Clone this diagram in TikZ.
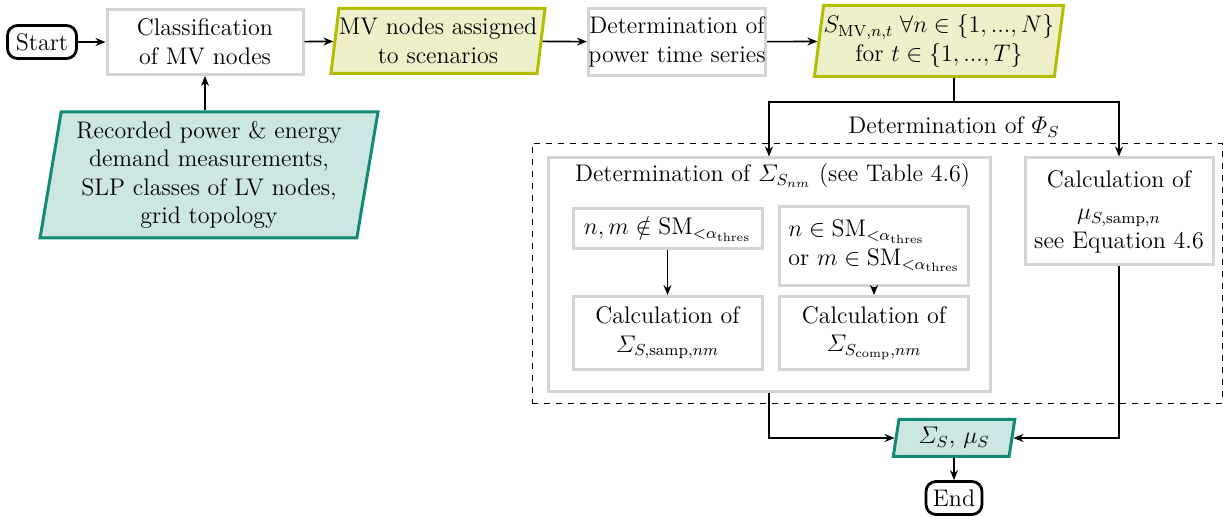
\documentclass[tikz,border=0pt]{standalone}
\usepackage{amsmath}
\usetikzlibrary{shapes.geometric,arrows.meta}

\definecolor{boxgray}{HTML}{D4D4D4}
\definecolor{oliveline}{HTML}{B4BE00}
\definecolor{olivefill}{HTML}{EEF0C9}
\definecolor{tealline}{HTML}{138A76}
\definecolor{tealfill}{HTML}{CCE6E1}

\tikzset{
  terminal/.style={draw, line width=1.4pt, rounded corners=5pt, inner sep=0pt},
  process/.style={draw=boxgray, line width=1.5pt, align=center, inner sep=0pt},
  data/.style={trapezium, trapezium left angle=80, trapezium right angle=100,
    trapezium stretches=true, line width=1.5pt, align=center, inner sep=0pt},
  oliveio/.style={data, draw=oliveline, fill=olivefill},
  tealio/.style={data, draw=tealline, fill=tealfill},
  conn/.style={-{Stealth[length=5pt,width=4pt]}, line width=0.8pt},
  link/.style={line width=0.8pt},
  group/.style={draw, dashed, line width=0.5pt, inner sep=0pt},
}

\begin{document}
\begin{tikzpicture}[x=0.5pt, y=-0.5pt, font=\fontsize{12}{14.25}\selectfont]
\useasboundingbox (0,0) rectangle (1226,517);

% main chain
\node[terminal, minimum width=34.5pt, minimum height=16.5pt] (start) at (42,42) {Start};
\node[process, minimum width=98pt, minimum height=32.5pt] (class) at (205,42)
  {Classification\\of MV nodes};
\node[oliveio, minimum width=102.5pt, minimum height=32.5pt] (mv) at (438,41)
  {MV nodes assigned\\to scenarios};
\node[process, minimum width=80pt, minimum height=33.5pt] (det) at (677,42)
  {Determination of\\power time series};
\node[oliveio, minimum width=119pt, minimum height=35.5pt] (smv) at (939,41)
  {$S_{\text{MV},n,t}\;\forall n\in\{1,...,N\}$\\for $t\in\{1,...,T\}$};

% input data
\node[tealio, minimum width=169pt, minimum height=63pt] (input) at (209,175)
  {Recorded power \& energy\\demand measurements,\\SLP classes of LV nodes,\\grid topology};

% covariance and mean determination
\node[group, minimum width=345pt, minimum height=130pt] (phi) at (877,273.5) {};
\node (philabel) at (954,127) {Determination of $\varPhi_S$};

\node[process, minimum width=221pt, minimum height=117pt] (sigbox) at (769,275) {};
\node[anchor=base west] (sigtitle) at (568,182) {Determination of $\varSigma_{S_{nm}}$ (see Table 4.6)};

\node[process, minimum width=94.5pt, minimum height=20pt] (in1) at (667.5,229)
  {$n,m\notin\text{SM}_{<\alpha_{\text{thres}}}$};
\node[process, align=left, minimum width=94.5pt, minimum height=39.5pt] (in2) at (874,246)
  {$n\in\text{SM}_{<\alpha_{\text{thres}}}$\\or $m\in\text{SM}_{<\alpha_{\text{thres}}}$};
\node[process, minimum width=94.5pt, minimum height=36.5pt] (in3) at (667.5,333)
  {Calculation of\\$\varSigma_{S,\text{samp},nm}$};
\node[process, minimum width=94.5pt, minimum height=36.5pt] (in4) at (874,333)
  {Calculation of\\$\varSigma_{S_{\text{comp}},nm}$};

\node[process, minimum width=94pt, minimum height=53.5pt] (mu) at (1119,211.5)
  {Calculation of\\[2pt]$\mu_{S,\text{samp},n}$\\see Equation 4.6};

% result
\node[tealio, minimum width=61pt, minimum height=18.5pt] (res) at (954,438)
  {$\varSigma_S$, $\mu_S$};
\node[terminal, minimum width=28pt, minimum height=16.5pt] (end) at (954,498) {End};

% connectors
\draw[conn] (start) -- (class);
\draw[conn] (class) -- (mv);
\draw[conn] (mv) -- (det);
\draw[conn] (det) -- (smv);
\draw[conn] (input.north -| class.south) -- (class.south);

\coordinate (split) at (954,102);
\draw[link] (smv.south -| split) -- (split);
\draw[conn] (split) -| (sigbox.north);
\draw[conn] (split) -| (mu.north);

\draw[conn] (in1) -- (in3);
\draw[conn] (in2) -- (in4);

\draw[conn] (sigbox.south) |- (res.west);
\draw[conn] (mu.south) |- (res.east);
\draw[conn] (res) -- (end);
\end{tikzpicture}
\end{document}
